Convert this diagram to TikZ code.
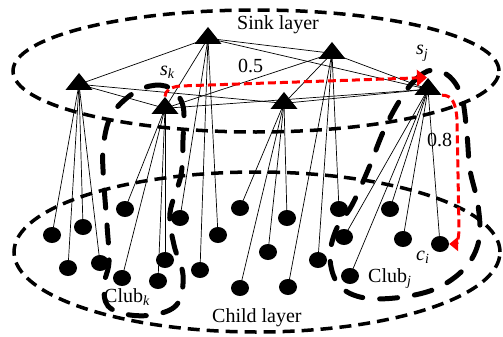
\documentclass[tikz,border=0pt]{standalone}
\usepackage{fontspec}
\setmainfont{Liberation Serif}
\usetikzlibrary{shapes.geometric,arrows.meta}
\pgfdeclarelayer{bg}
\pgfdeclarelayer{paper}
\pgfsetlayers{paper,bg,main}
\newcommand{\mysub}[2]{#1\textsubscript{\itshape #2}}
\begin{document}
\begin{tikzpicture}[x=1pt,y=-1pt,
  sinktri/.style={regular polygon, regular polygon sides=3, fill=black, draw=none, inner sep=0pt, minimum size=22.7pt, xscale=1.375},
  kid/.style={ellipse, fill=black, draw=none, inner sep=0pt, minimum width=18pt, minimum height=16pt},
  link/.style={line width=0.7pt},
  layerline/.style={line width=3.5pt, dash pattern=on 12pt off 7pt},
  clubline/.style={line width=5pt, line cap=round, dash pattern=on 18pt off 17pt},
  redpath/.style={draw=red, line width=3pt, dash pattern=on 8pt off 4pt},
  lbl/.style={font=\fontsize{20}{24}\selectfont, inner sep=0pt, anchor=base west}]
\useasboundingbox (0,0) rectangle (503,337);
\begin{pgfonlayer}{paper}
\fill[white] (0,0) rectangle (503,337);
\end{pgfonlayer}

% sinks
\node[sinktri] (t1) at (79,84.3) {};
\node[sinktri] (t2) at (208,38.3) {};
\node[sinktri] (t3) at (165,108.3) {};
\node[sinktri] (t4) at (332,53.3) {};
\node[sinktri] (t5) at (284,103.3) {};
\node[sinktri] (t6) at (428,89.3) {};

% children
\node[kid] (c1) at (52,235) {};
\node[kid] (c2) at (83,227) {};
\node[kid] (c3) at (68,268) {};
\node[kid] (c4) at (100,263) {};
\node[kid] (c5) at (125,209) {};
\node[kid] (c6) at (122,278) {};
\node[kid] (c7) at (158,281) {};
\node[kid] (c8) at (165,260) {};
\node[kid] (c9) at (180,218) {};
\node[kid] (c10) at (200,270) {};
\node[kid] (c11) at (218,235) {};
\node[kid] (c12) at (240,208) {};
\node[kid] (c13) at (240,288) {};
\node[kid] (c14) at (268,252) {};
\node[kid] (c15) at (287,218) {};
\node[kid] (c16) at (318,260) {};
\node[kid] (c17) at (288,287) {};
\node[kid] (c18) at (339,209) {};
\node[kid] (c19) at (390,209) {};
\node[kid] (c20) at (344,237) {};
\node[kid] (c21) at (403,239) {};
\node[kid] (c22) at (440,244) {};
\node[kid] (c23) at (350,276) {};

\begin{pgfonlayer}{bg}
\foreach \a/\b in {t1/t2,t1/t3,t1/t5,t2/t3,t2/t4,t2/t6,t3/t4,t3/t6,t4/t5,t4/t6,t5/t6}
  \draw[link] (\a.center) -- (\b.center);
\foreach \a/\b in {t1/c1,t1/c2,t1/c3,t1/c4,t3/c5,t3/c6,t3/c7,t3/c8,t2/c9,t2/c10,t2/c11,
  t5/c12,t5/c13,t5/c14,t5/c15,t4/c16,t4/c17,t4/c18,t6/c19,t6/c20,t6/c21,t6/c22,t6/c23}
  \draw[link] (\a.center) -- (\b.center);
\end{pgfonlayer}

% layers
\draw[layerline] (256,71) ellipse [x radius=243pt, y radius=61pt];
\draw[layerline] (257,252) ellipse [x radius=243pt, y radius=80pt];

% clubs
\draw[clubline] plot[smooth cycle, tension=0.6] coordinates {(128,97) (150,86) (170,88) (183,106) (183,140) (181,175) (170,213) (174,245) (183,275) (178,303) (158,314) (130,315) (108,306) (104,285) (109,262) (107,225) (104,185) (103,150) (110,118)};
\draw[clubline] plot[smooth cycle, tension=0.6] coordinates {(400,100) (415,80) (432,70) (450,77) (462,98) (467,135) (470,170) (478,205) (479,240) (465,268) (435,289) (395,298) (360,297) (338,284) (330,258) (336,230) (352,205) (368,170) (384,130)};

% red paths
\draw[redpath, -{Triangle[length=10pt,width=16pt]}] (t3.corner 1) .. controls (165,91) and (170,87) .. (180,86) -- ([xshift=-1pt]t6.corner 1);
\draw[redpath, -{Triangle[length=9pt,width=14pt]}] (t6.corner 3) .. controls (452,95) and (456,103) .. (457,120) -- (459,228) .. controls (459,240) and (456,244) .. (c22);

% labels
\node[lbl] (lsink) at (237,30) {Sink layer};
\node[lbl] (lchild) at (212,322) {Child layer};
\node[lbl] (l05) at (238,73) {0.5};
\node[lbl] (l08) at (427,146) {0.8};
\node[lbl] (lsk) at (160,75) {\mysub{\itshape s}{k}};
\node[lbl] (lsj) at (416,55) {\mysub{\itshape s}{j}};
\node[lbl] (lci) at (416,260) {\mysub{\itshape c}{i}};
\node[lbl] (lck) at (104,302) {\mysub{Club}{k}};
\node[lbl] (lcj) at (368,282) {\mysub{Club}{j}};
\end{tikzpicture}
\end{document}
